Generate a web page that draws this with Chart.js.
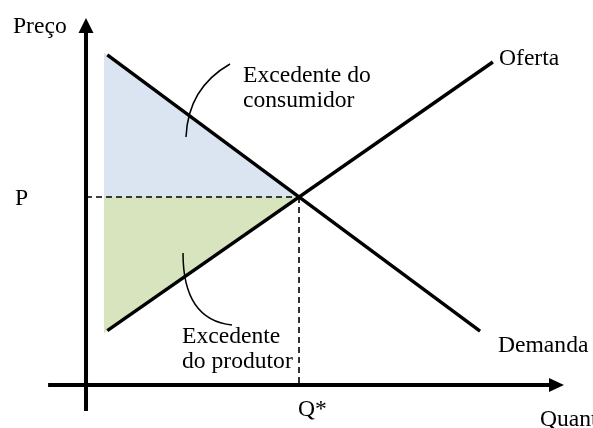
<!DOCTYPE html>
<html>
<head>
<meta charset="utf-8">
<script src="https://cdn.jsdelivr.net/npm/chart.js@4"></script>
<style>
html,body{margin:0;padding:0;background:#fff;}
canvas{display:block;}
</style>
</head>
<body>
<canvas id="c" width="593" height="428"></canvas>
<script>
// ---- data (economic units: Q quantity, P price) ----
const equilibrium = {q: 5, p: 5};
const supplyQ = [0.5, 9.55];
const supplyP = [1.445, 8.59];
const demandQ = [0.5, 9.25];
const demandP = [8.78, 1.43];
const consumerAreaQ = [0.42, 5];
const consumerAreaP = [8.85, 5];
const producerAreaQ = [0.42, 5];
const producerAreaP = [1.38, 5];
const yAxisQ = [0, 0];
const yAxisP = [-0.69, 9.76];
const xAxisQ = [-0.89, 11.22];
const xAxisP = [0, 0];
const axisTitles = ['Preço', 'Quantidade'];
const tickLabels = ['P', 'Q*'];
const curveLabels = ['Oferta', 'Demanda'];
const consumerLabel = ['Excedente do', 'consumidor'];
const producerLabel = ['Excedente', 'do produtor'];

const pts = (xs, ys) => xs.map((x, i) => ({x: x, y: ys[i]}));

const FONT = '23.6px "Liberation Serif", "Times New Roman", serif';

const overlay = {
  id: 'overlay',
  afterDatasetsDraw(chart) {
    const ctx = chart.ctx;
    const xs = chart.scales.x, ys = chart.scales.y;
    const px = v => xs.getPixelForValue(v), py = v => ys.getPixelForValue(v);
    ctx.save();
    ctx.fillStyle = '#000';
    let tx = px(yAxisQ[1]), ty = py(yAxisP[1]);
    ctx.beginPath();
    ctx.moveTo(tx, ty); ctx.lineTo(tx - 7.5, ty + 15); ctx.lineTo(tx + 7.5, ty + 15); ctx.closePath(); ctx.fill();
    tx = px(xAxisQ[1]); ty = py(xAxisP[1]);
    ctx.beginPath();
    ctx.moveTo(tx, ty); ctx.lineTo(tx - 15, ty - 7); ctx.lineTo(tx - 15, ty + 7); ctx.closePath(); ctx.fill();

    ctx.strokeStyle = '#000';
    ctx.lineWidth = 1.5;
    ctx.beginPath();
    ctx.moveTo(230, 64); ctx.quadraticCurveTo(188, 88, 186, 137);
    ctx.stroke();
    ctx.beginPath();
    ctx.moveTo(183, 253); ctx.quadraticCurveTo(183, 320, 232, 325);
    ctx.stroke();

    ctx.font = FONT;
    ctx.fillStyle = '#000';
    ctx.textBaseline = 'alphabetic';
    ctx.textAlign = 'left';
    ctx.fillText(axisTitles[0], 13, 33);
    ctx.fillText(axisTitles[1], 540, 426);
    ctx.fillText(tickLabels[0], 15, 205);
    ctx.fillText(tickLabels[1], 298, 416);
    ctx.fillText(curveLabels[0], 499, 65);
    ctx.fillText(curveLabels[1], 498, 352);
    ctx.fillText(consumerLabel[0], 243, 82);
    ctx.fillText(consumerLabel[1], 243, 107);
    ctx.fillText(producerLabel[0], 182, 343);
    ctx.fillText(producerLabel[1], 182, 368);
    ctx.restore();
  }
};

const solid = (data, w) => ({data, order: 1, showLine: true, borderColor: '#000', borderWidth: w, pointRadius: 0, fill: false, borderCapStyle: 'butt'});
const dashed = data => ({data, order: 2, showLine: true, borderColor: '#000', borderWidth: 1.6, borderDash: [6, 4], pointRadius: 0, fill: false});

new Chart(document.getElementById('c'), {
  type: 'scatter',
  data: {
    datasets: [
      {data: pts(consumerAreaQ, consumerAreaP), order: 10, showLine: true, borderWidth: 0, borderColor: 'rgba(0,0,0,0)', backgroundColor: '#dbe5f1', pointRadius: 0, fill: {value: equilibrium.p}},
      {data: pts(producerAreaQ, producerAreaP), order: 10, showLine: true, borderWidth: 0, borderColor: 'rgba(0,0,0,0)', backgroundColor: '#d7e4bd', pointRadius: 0, fill: {value: equilibrium.p}},
      dashed([{x: yAxisQ[0], y: equilibrium.p}, {x: equilibrium.q, y: equilibrium.p}]),
      dashed([{x: equilibrium.q, y: equilibrium.p}, {x: equilibrium.q, y: xAxisP[0]}]),
      solid(pts(supplyQ, supplyP), 3.4),
      solid(pts(demandQ, demandP), 3.4),
      solid(pts(yAxisQ, [yAxisP[0], yAxisP[1] - 0.3]), 4),
      solid(pts([xAxisQ[0], xAxisQ[1] - 0.3], xAxisP), 4)
    ]
  },
  options: {
    responsive: false,
    animation: false,
    devicePixelRatio: 1,
    layout: {padding: 0},
    plugins: {legend: {display: false}, tooltip: {enabled: false}},
    scales: {
      x: {type: 'linear', display: false, min: -2.019, max: 11.901},
      y: {type: 'linear', display: false, min: -1.1436, max: 10.239}
    }
  },
  plugins: [overlay]
});
</script>
</body>
</html>
